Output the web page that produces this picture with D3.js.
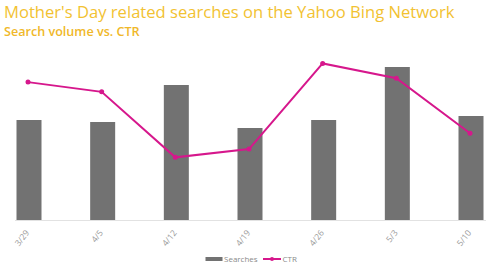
<!DOCTYPE html>
<html>
<head>
<meta charset="utf-8">
<script src="https://cdn.jsdelivr.net/npm/d3@7"></script>
<style>
  body { margin: 0; background: #fff; }
  svg { display: block; font-family: "Open Sans", "Noto Sans", sans-serif; }
</style>
</head>
<body>
<div id="chart"></div>
<script>
// data (searches = relative volume, ctr in %)
var weeks = ["3/29", "4/5", "4/12", "4/19", "4/26", "5/3", "5/10"];
var searches = [100, 98, 135, 92, 100, 153, 104];
var ctr = [3.83, 3.56, 1.74, 1.97, 4.35, 3.94, 2.41];

var svgWidth = 500;
var svgHeight = 268;

var svg = d3.select("#chart")
    .append("svg")
    .attr("width", svgWidth)
    .attr("height", svgHeight);

// titles
svg.append("text")
    .attr("x", 4)
    .attr("y", 17.8)
    .attr("font-size", "16.6px")
    .attr("fill", "#f2c232")
    .text("Mother's Day related searches on the Yahoo Bing Network");

svg.append("text")
    .attr("x", 4)
    .attr("y", 36)
    .attr("font-size", "12.6px")
    .attr("font-weight", 600)
    .attr("fill", "#f0b82a")
    .text("Search volume vs. CTR");

// scales
var baseY = 220;
var xScale = d3.scalePoint()
    .domain(weeks)
    .range([29, 471]);

var yBar = d3.scaleLinear()
    .domain([0, 160])
    .range([baseY, 60]);

var yCtr = d3.scaleLinear()
    .domain([0, 5])
    .range([baseY, 40]);

var barW = 25;

// bars
svg.append("g").selectAll("rect")
    .data(searches)
    .enter()
    .append("rect")
    .attr("x", (d, i) => xScale(weeks[i]) - barW / 2)
    .attr("y", d => yBar(d))
    .attr("width", barW)
    .attr("height", d => baseY - yBar(d))
    .attr("fill", "#727272");

// x axis
var xAxis = d3.axisBottom(xScale).tickSize(0);
var axisG = svg.append("g")
    .attr("transform", `translate(0, ${baseY})`)
    .call(xAxis);
axisG.select(".domain")
    .attr("d", "M15,0.5H486")
    .attr("stroke", "#e2e2e2");
axisG.selectAll("text")
    .attr("font-family", "\"Open Sans\", sans-serif")
    .attr("font-size", "8.5px")
    .attr("fill", "#9a9a9a")
    .attr("text-anchor", "end")
    .attr("x", 0)
    .attr("y", 0)
    .attr("dy", "0.35em")
    .attr("transform", "translate(-2, 11) rotate(-52)");

// CTR line
var line = d3.line()
    .x((d, i) => xScale(weeks[i]) - 1)
    .y(d => yCtr(d));

svg.append("path")
    .datum(ctr)
    .attr("d", line)
    .attr("fill", "none")
    .attr("stroke", "#d6178c")
    .attr("stroke-width", 2);

svg.append("g").selectAll("circle")
    .data(ctr)
    .enter()
    .append("circle")
    .attr("cx", (d, i) => xScale(weeks[i]) - 1)
    .attr("cy", d => yCtr(d))
    .attr("r", 2.5)
    .attr("fill", "#d6178c");

// legend
var legend = svg.append("g").attr("transform", "translate(0, 259)");
legend.append("rect")
    .attr("x", 205.5)
    .attr("y", -2)
    .attr("width", 17)
    .attr("height", 4)
    .attr("fill", "#727272");
legend.append("text")
    .attr("x", 224)
    .attr("y", 0)
    .attr("dy", "0.35em")
    .attr("font-size", "8px")
    .attr("fill", "#8a8a8a")
    .text("Searches");
legend.append("line")
    .attr("x1", 263)
    .attr("x2", 281)
    .attr("y1", 0)
    .attr("y2", 0)
    .attr("stroke", "#d6178c")
    .attr("stroke-width", 2);
legend.append("circle")
    .attr("cx", 272)
    .attr("cy", 0)
    .attr("r", 2)
    .attr("fill", "#d6178c");
legend.append("text")
    .attr("x", 282.5)
    .attr("y", 0)
    .attr("dy", "0.35em")
    .attr("font-size", "8px")
    .attr("fill", "#8a8a8a")
    .text("CTR");
</script>
</body>
</html>
